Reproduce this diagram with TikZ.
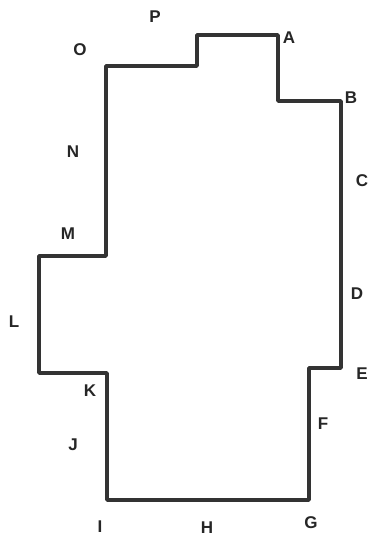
\documentclass[tikz,border=0pt]{standalone}
\usepackage{fontspec}
\setmainfont{Liberation Sans}
\begin{document}
\begin{tikzpicture}[x=1pt,y=-1pt]

    % --- Frame ---
    \useasboundingbox (0,0) rectangle (367,538);

    % --- Coordinates ---
    % Corners of the outline
    \coordinate (O) at (106,66);
    \coordinate (P1) at (197,66);
    \coordinate (P2) at (197,35);
    \coordinate (A) at (278,35);
    \coordinate (A1) at (278,101);
    \coordinate (B) at (341,101);
    \coordinate (E) at (341,368);
    \coordinate (E1) at (309,368);
    \coordinate (G) at (309,500);
    \coordinate (I) at (107,500);
    \coordinate (K) at (107,373);
    \coordinate (K1) at (39,373);
    \coordinate (L1) at (39,256);
    \coordinate (M) at (106,256);

    % --- Outline ---
    \draw[line width=3.6pt, color=black!80, line join=round]
        (O) -- (P1) -- (P2) -- (A) -- (A1) -- (B) -- (E) -- (E1) -- (G)
        -- (I) -- (K) -- (K1) -- (L1) -- (M) -- cycle;

    % --- Labels ---
    % Placing point labels as they appear in the original image
    \tikzset{lbl/.style={font=\bfseries\fontsize{17}{17}\selectfont, text=black!85, inner sep=0pt}}
    \node[lbl] (labP) at (155,17) {P};
    \node[lbl] (labO) at (80,50) {O};
    \node[lbl] (labA) at (289,38) {A};
    \node[lbl] (labB) at (351,98) {B};
    \node[lbl] (labC) at (362,181) {C};
    \node[lbl] (labN) at (73,152) {N};
    \node[lbl] (labM) at (68,234) {M};
    \node[lbl] (labL) at (14,322) {L};
    \node[lbl] (labD) at (357,294) {D};
    \node[lbl] (labE) at (362,374) {E};
    \node[lbl] (labK) at (90,391) {K};
    \node[lbl] (labF) at (323,424) {F};
    \node[lbl] (labJ) at (73,445) {J};
    \node[lbl] (labI) at (100,527) {I};
    \node[lbl] (labH) at (207,528) {H};
    \node[lbl] (labG) at (311,523) {G};

\end{tikzpicture}
\end{document}
